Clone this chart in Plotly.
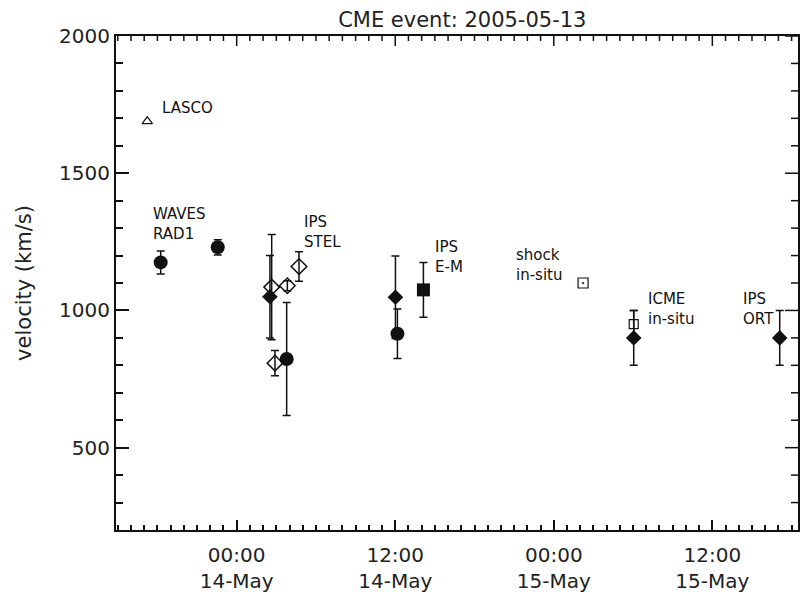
import pandas as pd
import plotly.graph_objects as go

# --- velocity estimates for the 2005-05-13 CME (km/s) ---
lasco_t = ["2005-05-13 17:14"]
lasco_v = [1689]

waves_t = ["2005-05-13 18:15", "2005-05-13 22:34"]
waves_v = [1175, 1230]
waves_err = [42, 28]

circle_t = ["2005-05-14 03:47", "2005-05-14 12:10"]
circle_v = [823, 915]
circle_err = [206, 90]

stel_t = ["2005-05-14 02:39", "2005-05-14 02:54", "2005-05-14 03:50", "2005-05-14 04:43"]
stel_v = [1085, 808, 1090, 1160]
stel_err = [192, 46, 18, 54]

ipsfill_t = ["2005-05-14 02:31", "2005-05-14 12:01", "2005-05-15 06:03", "2005-05-15 17:06"]
ipsfill_v = [1050, 1048, 900, 900]
ipsfill_err = [150, 150, 100, 100]

em_t = ["2005-05-14 14:08"]
em_v = [1075]
em_err = [100]

shock_t = ["2005-05-15 02:13"]
shock_v = [1100]

icme_t = ["2005-05-15 06:03"]
icme_v = [950]
icme_err = [50]

# --- axes ---
x_range = ["2005-05-13 14:52", "2005-05-15 18:29"]
y_range = [200, 2000]
x_major = ["2005-05-14 00:00", "2005-05-14 12:00", "2005-05-15 00:00", "2005-05-15 12:00"]
x_major_text = ["00:00<br>14-May", "12:00<br>14-May", "00:00<br>15-May", "12:00<br>15-May"]
x_hours = [t.strftime("%Y-%m-%d %H:%M")
           for t in pd.date_range("2005-05-13 15:00", "2005-05-15 18:00", freq="h")]
y_major = [500, 1000, 1500, 2000]
y_minor = [v for v in range(300, 2000, 100) if v not in y_major]

labels = [
    ("LASCO", "2005-05-13 18:11", 1736),
    ("WAVES<br>RAD1", "2005-05-13 17:31", 1315),
    ("IPS<br>STEL", "2005-05-14 04:57", 1287),
    ("IPS<br>E-M", "2005-05-14 14:52", 1196),
    ("shock<br>in-situ", "2005-05-14 21:00", 1165),
    ("ICME<br>in-situ", "2005-05-15 07:00", 1005),
    ("IPS<br>ORT", "2005-05-15 14:08", 1004),
]

INK = "#111111"
FONT = "DejaVu Sans"


def err(arr):
    return dict(type="data", array=arr, color=INK, thickness=1.5, width=4)


fig = go.Figure()
fig.add_trace(go.Scatter(x=lasco_t, y=lasco_v, mode="markers",
                         marker=dict(symbol="triangle-up-open", size=9, color=INK,
                                     line=dict(width=1.2, color=INK))))
fig.add_trace(go.Scatter(x=waves_t, y=waves_v, mode="markers", error_y=err(waves_err),
                         marker=dict(symbol="circle", size=14, color=INK)))
fig.add_trace(go.Scatter(x=circle_t, y=circle_v, mode="markers", error_y=err(circle_err),
                         marker=dict(symbol="circle", size=14, color=INK)))
fig.add_trace(go.Scatter(x=stel_t, y=stel_v, mode="markers", error_y=err(stel_err),
                         marker=dict(symbol="diamond-open", size=12, color=INK,
                                     line=dict(width=1.5, color=INK))))
fig.add_trace(go.Scatter(x=ipsfill_t, y=ipsfill_v, mode="markers", error_y=err(ipsfill_err),
                         marker=dict(symbol="diamond", size=12, color=INK)))
fig.add_trace(go.Scatter(x=em_t, y=em_v, mode="markers", error_y=err(em_err),
                         marker=dict(symbol="square", size=13, color=INK)))
fig.add_trace(go.Scatter(x=icme_t, y=icme_v, mode="markers", error_y=err(icme_err),
                         marker=dict(symbol="square-open", size=9, color=INK,
                                     line=dict(width=1.2, color=INK))))
fig.add_trace(go.Scatter(x=shock_t, y=shock_v, mode="markers",
                         marker=dict(symbol="square-open-dot", size=10, color=INK,
                                     line=dict(width=1.2, color=INK))))

for text, tx, ty in labels:
    fig.add_annotation(x=tx, y=ty, xref="x", yref="y", text=text, showarrow=False,
                       xanchor="left", yanchor="middle", align="left",
                       font=dict(family=FONT, size=15, color=INK))

# tick marks along the top and right edges of the frame (inward-pointing)
tick_line = dict(color=INK, width=1.5)
for h in x_hours:
    length = 10 if h in x_major else 5
    fig.add_shape(type="line", xref="x", yref="paper", x0=h, x1=h,
                  ysizemode="pixel", yanchor=1, y0=0, y1=-length, line=tick_line)
for v in y_minor + y_major:
    length = 13 if v in y_major else 7
    fig.add_shape(type="line", xref="paper", yref="y", y0=v, y1=v,
                  xsizemode="pixel", xanchor=1, x0=0, x1=-length, line=tick_line)

tick_style = dict(ticks="inside", tickcolor=INK, tickwidth=1.5, showgrid=False,
                  zeroline=False, automargin=False, showline=True, linecolor=INK,
                  linewidth=2, mirror=True,
                  tickfont=dict(family=FONT, size=20, color="#222"))

fig.update_layout(
    xaxis=dict(type="date", range=x_range, tickmode="array", tickvals=x_major,
               ticktext=x_major_text, ticklen=10, ticklabelstandoff=6,
               minor=dict(dtick=3600000, tick0="2005-05-13 00:00", ticks="inside",
                          ticklen=5, tickwidth=1.5, tickcolor=INK, showgrid=False),
               **tick_style),
    yaxis=dict(range=y_range, tickmode="array", tickvals=y_major, ticklen=13,
               minor=dict(dtick=100, tick0=0, ticks="inside", ticklen=7,
                          tickwidth=1.5, tickcolor=INK, showgrid=False),
               title=dict(text="velocity (km/s)", standoff=22,
                          font=dict(family=FONT, size=21, color="#222")),
               **tick_style),
    width=804, height=592, margin=dict(l=116, r=6, t=36, b=62),
    plot_bgcolor="white", paper_bgcolor="white", showlegend=False,
    title=dict(text="CME event: 2005-05-13", x=0.575, xanchor="center",
               y=1 - 20 / 592, yanchor="middle", yref="container",
               font=dict(family=FONT, size=21, color="#222")),
)

fig.write_html("out.html")
